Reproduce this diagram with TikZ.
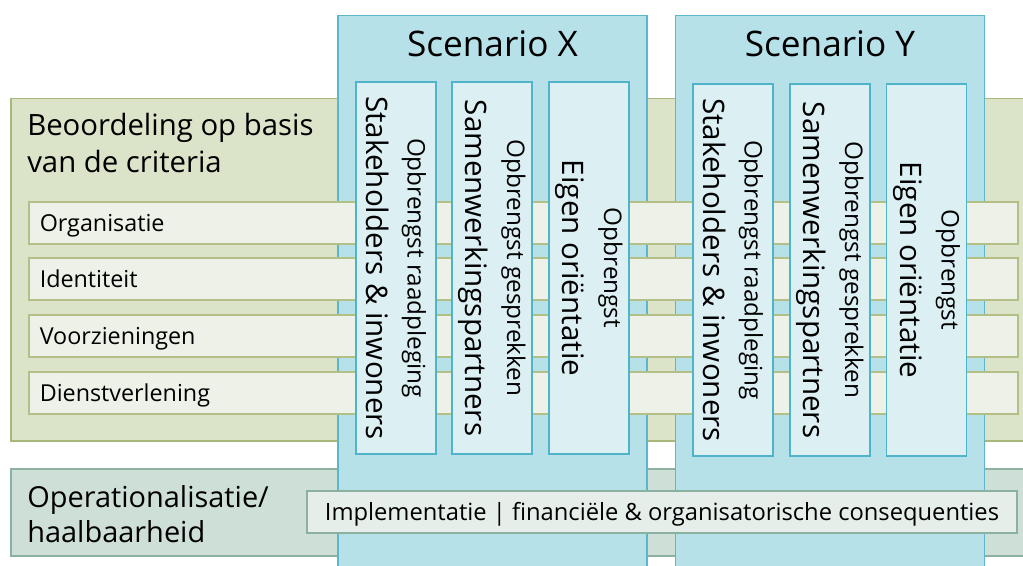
\documentclass[tikz,border=0pt]{standalone}
\usepackage{fontspec}
\setmainfont{Open Sans}
\usetikzlibrary{positioning}
\newdimen\px \px=0.75pt
\definecolor{critFill}{HTML}{DBE3C8}
\definecolor{critLine}{HTML}{A8B87A}
\definecolor{barFill}{HTML}{EEF1E7}
\definecolor{barLine}{HTML}{B2C088}
\definecolor{scenFill}{HTML}{B7E1E9}
\definecolor{scenLine}{HTML}{5DB7CB}
\definecolor{colFill}{HTML}{DCF0F4}
\definecolor{colLine}{HTML}{4FB3C9}
\definecolor{operFill}{HTML}{CEDFD8}
\definecolor{operLine}{HTML}{8DB1A1}
\definecolor{implFill}{HTML}{E6EEEA}
\tikzstyle{critArea} = [rectangle, anchor=north west, inner sep=0pt, draw=critLine, fill=critFill, line width=1.5\px]
\tikzstyle{operArea} = [rectangle, anchor=north west, inner sep=0pt, draw=operLine, fill=operFill, line width=1.5\px]
\tikzstyle{scenRec} = [rectangle, anchor=north, inner sep=0pt, draw=scenLine, fill=scenFill, line width=1.5\px, minimum width=309\px, minimum height=560\px]
\tikzstyle{colRec} = [rectangle, rotate=-90, inner sep=0pt, draw=colLine, fill=colFill, line width=1.5\px, minimum width=372\px, minimum height=80\px, align=center, font=\fontsize{18.2}{31}\selectfont]
\tikzstyle{barRec} = [rectangle, anchor=west, inner xsep=11\px, inner ysep=0pt, draw=barLine, fill=barFill, line width=1.5\px, minimum height=42\px, text width=967\px, text height=17pt, text depth=4pt, align=left, font=\fontsize{17.5}{20}\selectfont]
\tikzstyle{implRec} = [rectangle, inner sep=0pt, draw=operLine, fill=implFill, line width=1.5\px, minimum width=710\px, minimum height=42\px, text height=17pt, text depth=4pt, font=\fontsize{17.8}{20}\selectfont]
\tikzstyle{areaText} = [anchor=north west, inner sep=0pt, align=left, font=\fontsize{22}{27.75}\selectfont]
\newcommand{\colText}[2]{#1\\{\fontsize{22.2}{31}\selectfont #2}}

\begin{document}
\begin{tikzpicture}[x=\px, y=-\px]
		\useasboundingbox (0,0) rectangle (1023,566);
		% achtergrondvlakken
		\node (criteria) [critArea, minimum width=1030\px, minimum height=342\px] at (10,98) {};
		\node (oper) [operArea, minimum width=1030\px, minimum height=87\px] at (10,468) {};
		\node (critTitle) [areaText] at (27,113) {Beoordeling op basis\\van de criteria};
		\node (operTitle) [areaText, font=\fontsize{21.7}{26.25}\selectfont] at (27,485) {Operationalisatie/\\haalbaarheid};
		% scenario's
		\node (scenX) [scenRec] at (492.5,15) {};
		\node (scenY) [scenRec] at (830,15) {};
		\node (titleX) [font=\fontsize{26.4}{30}\selectfont, below=15\px of scenX.north, inner sep=0pt] {Scenario X};
		\node (titleY) [font=\fontsize{26.4}{30}\selectfont, below=15\px of scenY.north, inner sep=0pt] {Scenario Y};
		% criteria
		\node (organisatie) [barRec] at (28,223) {Organisatie};
		\node (identiteit) [barRec] at (28,279) {Identiteit};
		\node (voorzieningen) [barRec] at (28,336) {Voorzieningen};
		\node (dienstverlening) [barRec] at (28,393) {Dienstverlening};
		\node (implementatie) [implRec] at (662,512) {Implementatie | financiële \& organisatorische consequenties};
		% opbrengsten per scenario
		\node (stakeX) [colRec] at (396,268) {\colText{Opbrengst raadpleging}{Stakeholders \& inwoners}};
		\node (samenX) [colRec] at (492,268) {\colText{Opbrengst gesprekken}{Samenwerkingspartners}};
		\node (eigenX) [colRec] at (589,268) {\colText{Opbrengst}{Eigen oriëntatie}};
		\node (stakeY) [colRec] at (733,270) {\colText{Opbrengst raadpleging}{Stakeholders \& inwoners}};
		\node (samenY) [colRec] at (830,270) {\colText{Opbrengst gesprekken}{Samenwerkingspartners}};
		\node (eigenY) [colRec] at (926.5,270) {\colText{Opbrengst}{Eigen oriëntatie}};
	\end{tikzpicture}
\end{document}
